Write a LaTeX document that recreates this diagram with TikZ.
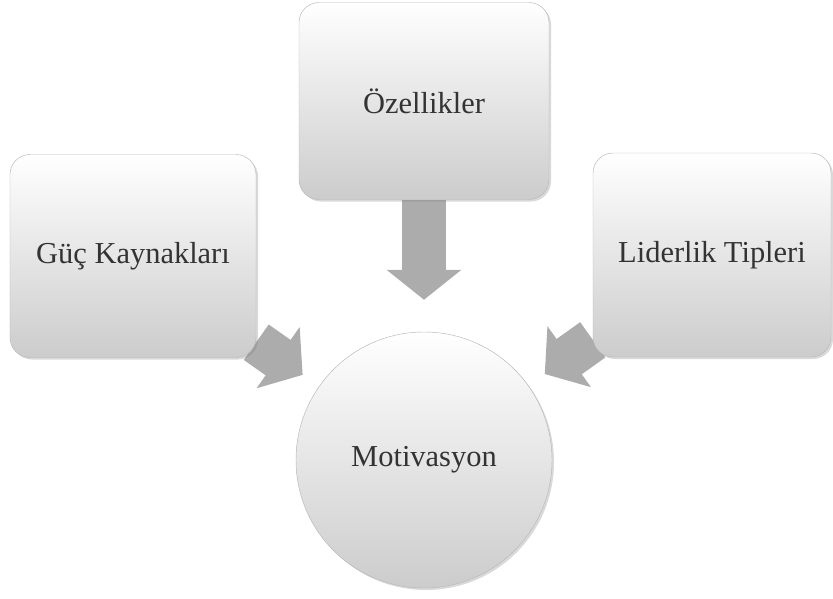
\documentclass[tikz,border=0pt]{standalone}
\usepackage{fontspec}
\setmainfont{Liberation Serif}
\usetikzlibrary{arrows.meta,shadows,backgrounds}

\tikzset{
  factorbox/.style={rectangle, rounded corners=6mm, draw=gray!55,
    top color=white, bottom color=gray!40,
    drop shadow={opacity=0.3, shadow xshift=0.6mm, shadow yshift=-0.6mm},
    text=black!80, font=\fontsize{26}{30}\selectfont, inner sep=0pt},
  motivcircle/.style={circle, draw=gray!55, top color=white, bottom color=gray!40,
    drop shadow={opacity=0.3, shadow xshift=0.6mm, shadow yshift=-0.6mm},
    text=black!80, font=\fontsize{26}{30}\selectfont, inner sep=0pt,
    minimum size=76.8mm},
  bigarrow/.style={draw=gray!65, line width=13mm,
    -{Triangle[length=9mm,width=22mm]}}
}

\begin{document}
\begin{tikzpicture}[x=0.3mm, y=-0.3mm]

  \useasboundingbox (0,0) rectangle (833,599);

  \node[factorbox, minimum width=73.8mm, minimum height=60.9mm] (guc) at (133,256) {Güç Kaynakları};
  \node[factorbox, minimum width=75mm, minimum height=59.1mm] (ozel) at (424,101) {Özellikler};
  \node[factorbox, minimum width=71.4mm, minimum height=61.2mm] (lider) at (712,255) {Liderlik Tipleri};
  \node[motivcircle] (motiv) at (424,460) {Motivasyon};

  \begin{pgfonlayer}{background}
  \draw[bigarrow, shorten >=9.6mm] (ozel) -- (motiv);
  \draw[bigarrow, shorten >=6mm] (guc) -- (motiv);
  \draw[bigarrow, shorten >=6mm] (lider) -- (motiv);
  \end{pgfonlayer}
\end{tikzpicture}
\end{document}
